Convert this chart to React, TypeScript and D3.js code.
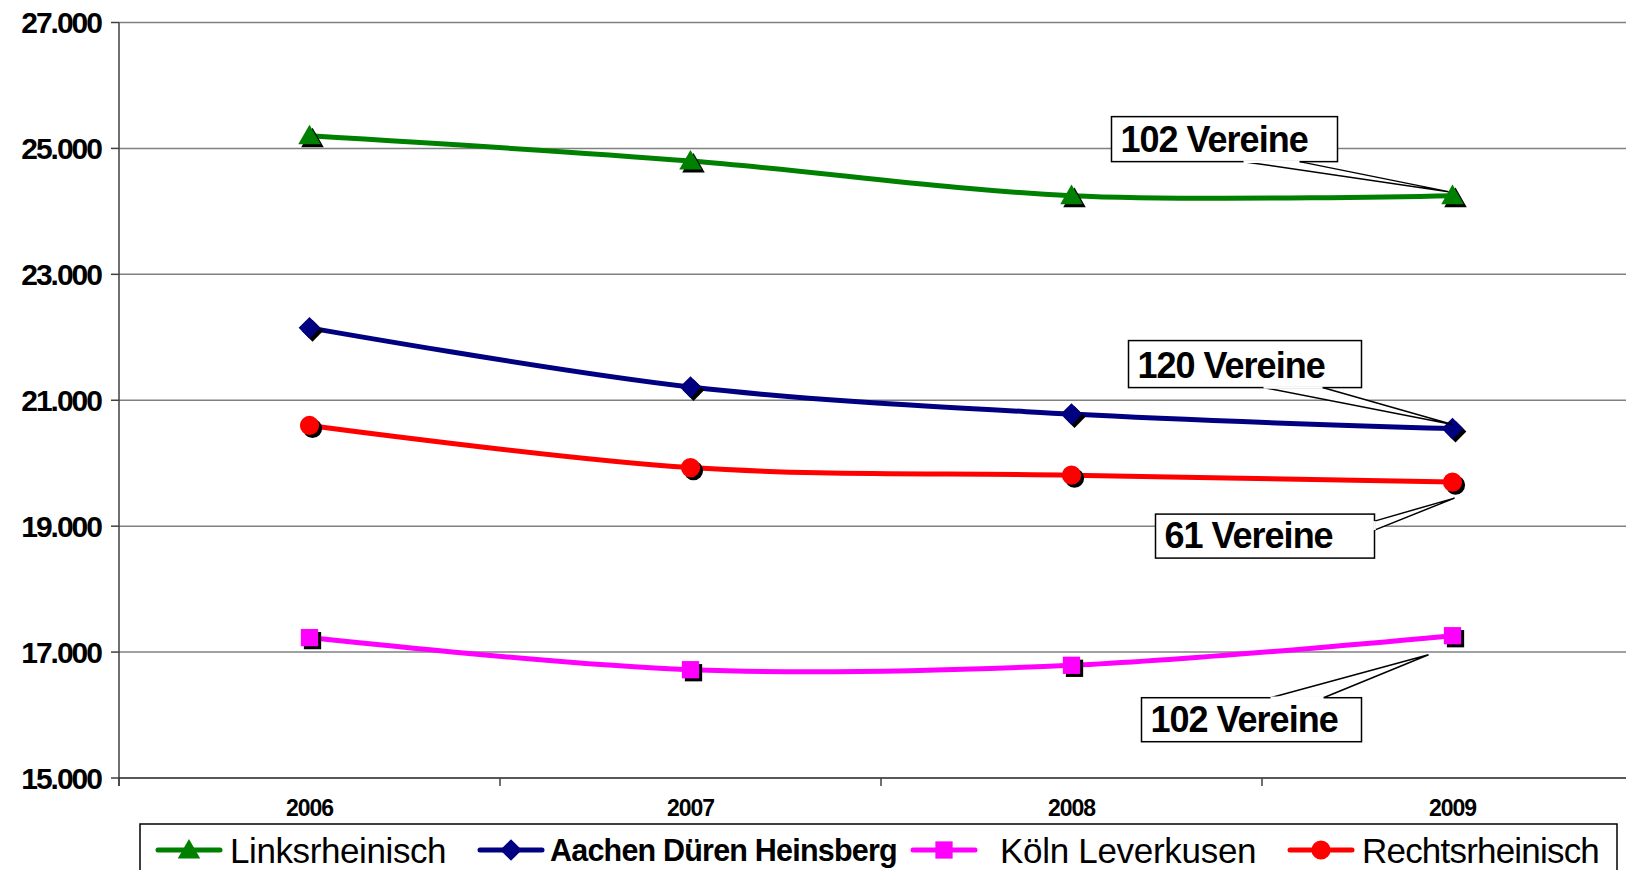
import React from 'react';
import * as d3 from 'd3';

const years = ['2006', '2007', '2008', '2009'];
const linksValues = [25200, 24800, 24250, 24250];
const aachenValues = [22150, 21210, 20780, 20550];
const koelnValues = [17230, 16720, 16790, 17260];
const rechtsValues = [20600, 19930, 19810, 19700];
const yTicks = [15000, 17000, 19000, 21000, 23000, 25000, 27000];

type MarkerKind = 'triangle' | 'diamond' | 'square' | 'circle';

interface Series {
  name: string;
  values: number[];
  color: string;
  marker: MarkerKind;
  bold?: boolean;
}

const series: Series[] = [
  { name: 'Linksrheinisch', values: linksValues, color: '#008000', marker: 'triangle' },
  { name: 'Aachen Düren Heinsberg', values: aachenValues, color: '#000080', marker: 'diamond', bold: true },
  { name: 'Köln Leverkusen', values: koelnValues, color: '#ff00ff', marker: 'square' },
  { name: 'Rechtsrheinisch', values: rechtsValues, color: '#ff0000', marker: 'circle' },
];

// callouts pinned to the last point of a series
const callouts = [
  { series: 0, text: '102 Vereine', box: [-341, -79, 226, 45], base: 'bottom', b1: 132, b2: 188, tip: [-4, -4] },
  { series: 1, text: '120 Vereine', box: [-324, -88, 233, 47], base: 'bottom', b1: 135, b2: 194, tip: [0, -4] },
  { series: 3, text: '61 Vereine', box: [-297, 32, 219, 44], base: 'right', b1: 7, b2: 16, tip: [2, 16] },
  { series: 2, text: '102 Vereine', box: [-311, 62, 220, 44], base: 'top', b1: 129, b2: 182, tip: [-24, 19] },
];

const W = 1626;
const H = 870;
const margin = { left: 119, top: 22.5 };
const plotW = 4 * 381;
const plotH = 755.5;
const font = '"Liberation Sans", Arial, sans-serif';

function markerPath(kind: MarkerKind) {
  const sym =
    kind === 'triangle' ? d3.symbolTriangle :
    kind === 'diamond' ? d3.symbolDiamond2 :
    kind === 'square' ? d3.symbolSquare2 : d3.symbolCircle;
  const size = kind === 'triangle' ? 220 : kind === 'diamond' ? 300 : kind === 'square' ? 380 : 290;
  return d3.symbol(sym, size)() || '';
}

function Marker({ kind, x, y, color, shadow }: { kind: MarkerKind; x: number; y: number; color: string; shadow?: boolean }) {
  const d = markerPath(kind);
  const dy = kind === 'triangle' ? 2 : 0;
  return (
    <g>
      {shadow && <path d={d} transform={`translate(${x + 3},${y + 3 + dy})`} fill="#000" />}
      <path d={d} transform={`translate(${x},${y + dy})`} fill={color} />
    </g>
  );
}

export default function App() {
  const x = d3.scaleBand().domain(years).range([margin.left, margin.left + plotW]);
  const y = d3.scaleLinear().domain([15000, 27000]).range([margin.top + plotH, margin.top]);
  const cx = (yr: string) => (x(yr) || 0) + x.bandwidth() / 2;

  const line = d3.line<number>()
    .x((_, i) => cx(years[i]))
    .y(d => y(d))
    .curve(d3.curveCardinal.tension(0));

  const bottom = y(15000);
  const legendY = 850;
  const legendItems = [
    { lx: 158, tx: 230, size: 35, ls: -0.4 },
    { lx: 480, tx: 550, size: 30.5, ls: -0.8 },
    { lx: 913, tx: 1000, size: 35, ls: -0.3 },
    { lx: 1290, tx: 1362, size: 35, ls: -0.8 },
  ];

  return (
    <svg width={W} height={H} style={{ position: 'absolute', left: 0, top: 0, background: '#fff' }} fontFamily={font}>
      <rect x={0} y={0} width={W} height={H} fill="#fff" />
      {/* grid */}
      {yTicks.map(t => (
        <g key={t}>
          {t !== 15000 && (
            <line x1={margin.left} x2={margin.left + plotW} y1={y(t)} y2={y(t)} stroke="#808080" strokeWidth={1.5} />
          )}
          <line x1={margin.left - 8} x2={margin.left} y1={y(t)} y2={y(t)} stroke="#404040" strokeWidth={1.5} />
          <text x={101} y={y(t)} dy="0.36em" textAnchor="end" fontSize={30} fontWeight="bold" letterSpacing={-2}>
            {d3.format(',')(t).replace(',', '.')}
          </text>
        </g>
      ))}
      {/* axes */}
      <line x1={margin.left} x2={margin.left} y1={margin.top} y2={bottom + 8} stroke="#404040" strokeWidth={1.5} />
      <line x1={margin.left} x2={margin.left + plotW} y1={bottom} y2={bottom} stroke="#202020" strokeWidth={1.5} />
      {years.map(yr => (
        <g key={yr}>
          <line x1={x(yr)} x2={x(yr)} y1={bottom} y2={bottom + 8} stroke="#404040" strokeWidth={1.5} />
          <text x={cx(yr)} y={bottom + 38} textAnchor="middle" fontSize={23} fontWeight="bold" letterSpacing={-1}>
            {yr}
          </text>
        </g>
      ))}
      {/* lines */}
      {series.map(s => (
        <path key={s.name} d={line(s.values) || ''} fill="none" stroke={s.color} strokeWidth={5} />
      ))}
      {series.map(s =>
        s.values.map((v, i) => (
          <Marker key={s.name + i} kind={s.marker} x={cx(years[i])} y={y(v)} color={s.color} shadow />
        ))
      )}
      {/* callouts */}
      {callouts.map((c, i) => {
        const s = series[c.series];
        const ax = cx(years[years.length - 1]);
        const ay = y(s.values[s.values.length - 1]);
        const [bx, by, bw, bh] = [ax + c.box[0], ay + c.box[1], c.box[2], c.box[3]];
        const tx = ax + c.tip[0];
        const ty = ay + c.tip[1];
        let p1: [number, number];
        let p2: [number, number];
        if (c.base === 'bottom') {
          p1 = [bx + c.b1, by + bh];
          p2 = [bx + c.b2, by + bh];
        } else if (c.base === 'top') {
          p1 = [bx + c.b1, by];
          p2 = [bx + c.b2, by];
        } else {
          p1 = [bx + bw, by + c.b1];
          p2 = [bx + bw, by + c.b2];
        }
        return (
          <g key={i}>
            <path
              d={`M${p1[0]},${p1[1]}L${tx},${ty}L${p2[0]},${p2[1]}`}
              fill="#fff"
              stroke="#000"
              strokeWidth={1.5}
            />
            <rect x={bx} y={by} width={bw} height={bh} fill="#fff" stroke="#000" strokeWidth={1.5} />
            <line x1={p1[0]} y1={p1[1]} x2={p2[0]} y2={p2[1]} stroke="#fff" strokeWidth={2.5} />
            <text x={bx + 9} y={by + bh - 10} fontSize={36} fontWeight="bold" letterSpacing={-1}>
              {c.text}
            </text>
          </g>
        );
      })}
      {/* legend */}
      <rect x={140} y={824} width={1477} height={60} fill="#fff" stroke="#000" strokeWidth={1.5} />
      {series.map((s, i) => {
        const it = legendItems[i];
        return (
          <g key={s.name}>
            <line x1={it.lx} x2={it.lx + 62} y1={legendY} y2={legendY} stroke={s.color} strokeWidth={5} strokeLinecap="round" />
            <Marker kind={s.marker} x={it.lx + 31} y={legendY} color={s.color} />
            <text x={it.tx} y={legendY} dy="0.36em" fontSize={it.size} fontWeight={s.bold ? 'bold' : 'normal'} letterSpacing={it.ls}>
              {s.name}
            </text>
          </g>
        );
      })}
    </svg>
  );
}
